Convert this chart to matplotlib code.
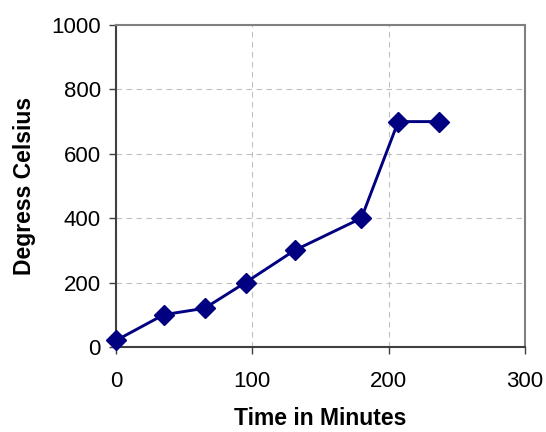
import matplotlib.pyplot as plt

# Data
time_min = [0, 35, 65, 95, 131, 180, 207, 237]
temp_c = [20, 100, 120, 200, 300, 400, 700, 700]

x_ticks = [0, 100, 200, 300]
y_ticks = [0, 200, 400, 600, 800, 1000]

plt.rcParams['font.family'] = ['Liberation Sans', 'DejaVu Sans']

fig = plt.figure(figsize=(5.46, 4.32), dpi=100)
ax = fig.add_axes([0.2125, 0.197, 0.749, 0.745])

ax.plot(time_min, temp_c, color='#000080', linewidth=2.1,
        marker='D', markersize=10.5, zorder=3, clip_on=False)

ax.set_xlim(0, 300)
ax.set_ylim(0, 1000)
ax.set_xticks(x_ticks)
ax.set_yticks(y_ticks)

# dashed grey grid like the spreadsheet look
ax.grid(True, color='#c0c0c0', linestyle=(0, (5, 4)), linewidth=0.8)
ax.set_axisbelow(True)

for side in ['top', 'right']:
    ax.spines[side].set_color('#808080')
    ax.spines[side].set_linewidth(1.5)
for side in ['left', 'bottom']:
    ax.spines[side].set_color('#404040')
    ax.spines[side].set_linewidth(1.5)

ax.tick_params(axis='both', direction='out', length=5, width=1,
               color='#404040', labelsize=16)
ax.tick_params(axis='x', pad=12)
ax.tick_params(axis='y', pad=6)

ax.set_xlabel("Time in Minutes", fontsize=16.5, fontweight='bold', labelpad=11)
ax.set_ylabel("Degress Celsius", fontsize=16.5, fontweight='bold', labelpad=11)

plt.savefig("out.png", dpi=100)
